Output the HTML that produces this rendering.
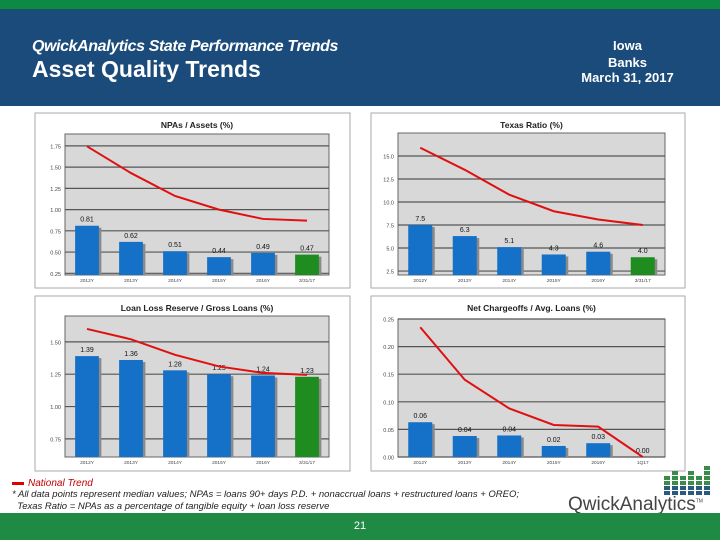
<!DOCTYPE html>
<html><head><meta charset="utf-8"><style>
body{margin:0;width:720px;height:540px;position:relative;background:#fff;font-family:"Liberation Sans",sans-serif;overflow:hidden}
.abs{position:absolute}
</style></head><body>
<div class="abs" style="left:0;top:0;width:720px;height:9px;background:#0c8a44"></div>
<div class="abs" style="left:0;top:9px;width:720px;height:95px;background:#1a4b7a;border-top:2px solid #16506a"></div>
<div class="abs" style="left:32px;top:38px;color:#fff;font-size:16px;font-style:italic;font-weight:bold;letter-spacing:-0.4px">QwickAnalytics State Performance Trends</div>
<div class="abs" style="left:32px;top:56px;color:#fff;font-size:23px;font-weight:bold">Asset Quality Trends</div>
<div class="abs" style="left:580px;top:37px;width:95px;text-align:center;color:#fff;font-size:13px;font-weight:bold;line-height:17px">Iowa<br>Banks</div>
<div class="abs" style="left:570px;top:70px;width:115px;text-align:center;color:#fff;font-size:13px;font-weight:bold">March 31, 2017</div>

<svg class="abs" style="left:0;top:0" width="720" height="540" id="charts"></svg>

<div class="abs" style="left:12px;top:478px;font-size:10px;font-style:italic;color:#c00000"><span style="display:inline-block;width:12px;height:3px;background:#e00000;vertical-align:middle;margin-right:4px"></span>National Trend</div>
<div class="abs" style="left:12px;top:489px;font-size:9.5px;font-style:italic;color:#222;line-height:12px">* All data points represent median values; NPAs = loans 90+ days P.D. + nonaccrual loans + restructured loans + OREO;<br>&nbsp;&nbsp;Texas Ratio = NPAs as a percentage of tangible equity + loan loss reserve</div>
<div class="abs" style="left:568px;top:494px;font-size:19px;color:#444">QwickAnalytics<sup style="font-size:5px">TM</sup></div>
<div class="abs" style="left:0;top:513px;width:720px;height:27px;background:#1e8a44;color:#fff;font-size:11px;text-align:center;line-height:27px">21</div>

<script>
// Chart 1: NPAs / Assets
const cats1 = ["2012Y","2013Y","2014Y","2015Y","2016Y","3/31/17"];
const bars1 = [0.81,0.62,0.51,0.44,0.49,0.47];
const labels1 = ["0.81","0.62","0.51","0.44","0.49","0.47"];
const trend1 = [1.745,1.43,1.16,1.0,0.89,0.87];
const ticks1 = [0.25,0.5,0.75,1.0,1.25,1.5,1.75];
const tickLabels1 = ["0.25","0.50","0.75","1.00","1.25","1.50","1.75"];
// Chart 2: Texas Ratio
const cats2 = ["2012Y","2013Y","2014Y","2015Y","2016Y","3/31/17"];
const bars2 = [7.5,6.3,5.1,4.3,4.6,4.0];
const labels2 = ["7.5","6.3","5.1","4.3","4.6","4.0"];
const trend2 = [15.9,13.5,10.8,9.0,8.1,7.5];
const ticks2 = [2.5,5,7.5,10,12.5,15];
const tickLabels2 = ["2.5","5.0","7.5","10.0","12.5","15.0"];
// Chart 3: Loan Loss Reserve / Gross Loans
const cats3 = ["2012Y","2013Y","2014Y","2015Y","2016Y","3/31/17"];
const bars3 = [1.39,1.36,1.28,1.25,1.24,1.23];
const labels3 = ["1.39","1.36","1.28","1.25","1.24","1.23"];
const trend3 = [1.60,1.52,1.40,1.31,1.26,1.245];
const ticks3 = [0.75,1.0,1.25,1.5];
const tickLabels3 = ["0.75","1.00","1.25","1.50"];
// Chart 4: Net Chargeoffs / Avg. Loans
const cats4 = ["2012Y","2013Y","2014Y","2015Y","2016Y","1Q17"];
const bars4 = [0.063,0.038,0.039,0.02,0.025,0.0];
const labels4 = ["0.06","0.04","0.04","0.02","0.03","0.00"];
const trend4 = [0.235,0.14,0.088,0.058,0.055,0.0];
const ticks4 = [0,0.05,0.1,0.15,0.2,0.25];
const tickLabels4 = ["0.00","0.05","0.10","0.15","0.20","0.25"];

const NS="http://www.w3.org/2000/svg";
const svg=document.getElementById('charts');
function mk(tag,attrs,parent){const e=document.createElementNS(NS,tag);for(const k in attrs)e.setAttribute(k,attrs[k]);(parent||svg).appendChild(e);return e;}

function drawChart(key,title,box,plot,ymin,ymax,cats,bars,labels,trend,ticks,tickLabels){
  const g=mk('g',{});
  
  
  const panel=mk('rect',{x:box[0],y:box[1],width:box[2],height:box[3],fill:'#fff',stroke:'#aaa','stroke-width':1},g);
  
  
  const t=mk('text',{x:(plot[0]+plot[2])/2,y:box[1]+15,'text-anchor':'middle','font-size':'8.5','font-weight':'bold',fill:'#222'},g);
  t.textContent=title;
  
  
  const [x0,y0,x1,y1]=plot;
  const bg=mk('rect',{x:x0,y:y0,width:x1-x0,height:y1-y0,fill:'#d8d8d8',stroke:'#666','stroke-width':1},g);
  
  
  const ys=v=>y1-(v-ymin)/(ymax-ymin)*(y1-y0);
  const step=(x1-x0)/cats.length;
  const xs=i=>x0+step*(i+0.5);
  ticks.forEach((v,i)=>{
    const l=mk('line',{x1:x0,x2:x1,y1:ys(v),y2:ys(v),stroke:'#555','stroke-width':1.2},g);
    
    
    const tl=mk('text',{x:x0-4,y:ys(v)+2.5,'text-anchor':'end','font-size':'5.5',fill:'#444'},g);
    tl.textContent=tickLabels[i];
    
    
  });
  const bw=step*0.54;
  bars.forEach((v,i)=>{
    const top=ys(Math.max(v,ymin));
    const sh=mk('rect',{x:xs(i)-bw/2+2.5,y:top+2,width:bw,height:Math.max(0,y1-top-2),fill:'#8a8a8a'},g);
    
    
    const b=mk('rect',{x:xs(i)-bw/2,y:top,width:bw,height:Math.max(0,y1-top),fill:i===bars.length-1&&key!=='nco'?'#1f8c1f':'#1570c8'},g);
    
    
    const bl=mk('text',{x:xs(i),y:top-4,'text-anchor':'middle','font-size':'7',fill:'#111'},g);
    bl.textContent=labels[i];
    
    
    const cl=mk('text',{x:xs(i),y:y1+7,'text-anchor':'middle','font-size':'4.8',fill:'#444'},g);
    cl.textContent=cats[i];
    
    
  });
  const pts=trend.map((v,i)=>xs(i)+','+ys(v)).join(' ');
  const pl=mk('polyline',{points:pts,fill:'none',stroke:'#e01010','stroke-width':2},g);
  
  
}
drawChart('npa','NPAs / Assets (%)',[35,113,315,175],[65,134,329,275],0.23,1.89,cats1,bars1,labels1,trend1,ticks1,tickLabels1);
drawChart('texas','Texas Ratio (%)',[371,113,314,175],[398,133,665,275],2.07,17.5,cats2,bars2,labels2,trend2,ticks2,tickLabels2);
drawChart('llr','Loan Loss Reserve / Gross Loans (%)',[35,296,315,175],[65,316,329,457],0.61,1.70,cats3,bars3,labels3,trend3,ticks3,tickLabels3);
drawChart('nco','Net Chargeoffs / Avg. Loans (%)',[371,296,314,175],[398,319,665,457],0,0.25,cats4,bars4,labels4,trend4,ticks4,tickLabels4);

// logo bars
const logoHeights=[4,5,4,5,4,6];
logoHeights.forEach((h,i)=>{
  for(let r=0;r<h;r++){
    const c=mk('rect',{x:664+i*8,y:496-(r+1)*5,width:6,height:4,fill:r<2?'#2a5a80':'#3a8a4a'});
    
    
  }
});
</script>
</body></html>
